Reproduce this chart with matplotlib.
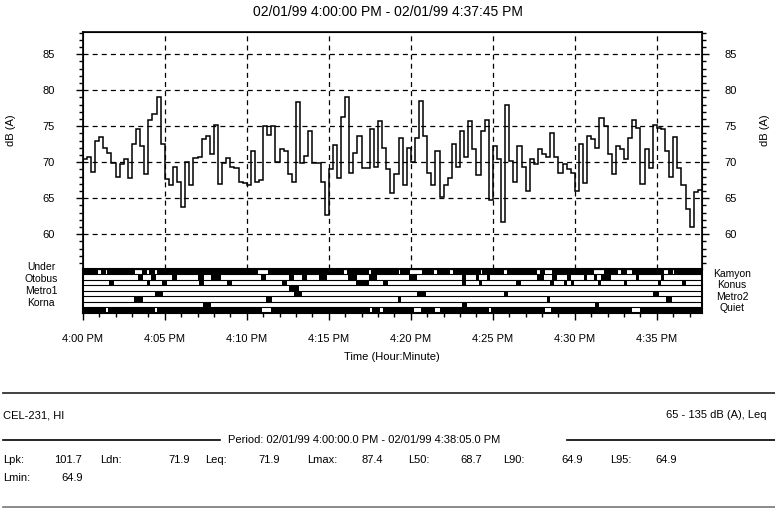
import numpy as np
import matplotlib
matplotlib.use('Agg')
import matplotlib.pyplot as plt
from matplotlib.lines import Line2D
from matplotlib.ticker import MultipleLocator

# ---- data ----
title = '02/01/99 4:00:00 PM - 02/01/99 4:37:45 PM'
interval_s = 15  # one level every 15 seconds

levels = [
    70.5, 70.7, 68.6, 73.0, 73.5, 72.0, 71.3, 69.9, 68.0, 69.8, 70.4, 67.8, 72.6, 74.6, 72.3, 68.4, 75.9, 76.7, 79.0, 72.5,
    67.6, 66.9, 69.3, 67.3, 63.8, 70.0, 66.8, 70.6, 70.7, 73.2, 73.7, 71.1, 75.2, 67.0, 69.9, 70.6, 69.3, 69.2, 67.3, 67.1,
    66.8, 71.5, 67.3, 67.5, 75.1, 73.8, 75.0, 70.1, 71.9, 71.5, 68.4, 67.3, 78.4, 69.9, 70.8, 74.4, 69.9, 69.9, 67.3, 62.6,
    69.0, 72.4, 67.8, 76.3, 79.0, 68.5, 71.3, 73.7, 69.2, 69.2, 74.6, 69.4, 75.7, 72.0, 69.0, 65.7,
    68.3, 73.3, 66.9, 72.0, 70.1, 73.4, 78.5, 73.7, 68.5, 66.8, 71.5, 65.2, 66.9, 67.8, 72.6, 69.4, 74.4, 70.7, 75.7, 71.9,
    68.2, 74.4, 75.9, 64.7, 72.3, 70.4, 61.7, 78.0, 70.2, 67.3, 72.3, 69.4, 66.0, 70.4, 69.8, 71.9, 71.2, 70.7, 74.1, 70.7,
    68.5, 69.8, 69.0, 68.5, 66.0, 72.6, 67.1, 73.7, 73.2, 72.0, 76.2, 75.1, 71.2, 68.3, 72.2, 71.8, 70.4, 73.3, 75.9, 74.7,
    67.0, 71.9, 69.2, 75.2, 74.8, 74.6, 71.6, 68.0, 73.5, 69.2, 66.9, 63.5, 61.0, 65.8, 66.2,
]

# event strip rows (minutes after 4:00 PM, start/end of marker)
under_on = [(0, 0.95), (1.10, 1.42), (1.50, 3.19), (3.6, 3.9), (4.05, 4.38), (4.5, 10.7),
            (11.3, 15.9), (16.1, 17.45), (17.6, 19.27), (19.37, 19.98), (20.69, 21.4),
            (21.6, 22.4), (22.6, 24.25), (24.35, 25.68), (25.88, 27.7), (27.9, 28.2),
            (28.6, 31.17), (31.78, 32.6), (32.8, 33.2), (33.5, 35.45), (35.65, 35.96), (36.06, 37.75)]
kamyon_on = [(3.4, 3.7), (4.15, 4.45), (5.45, 5.75), (7.05, 7.4), (7.85, 8.4), (10.85, 11.2),
             (12.55, 12.9), (13.35, 13.7), (14.4, 14.9), (16.2, 16.7), (17.45, 17.95),
             (19.9, 20.4), (23.15, 23.35), (23.95, 24.15), (24.65, 24.85), (27.7, 28.1),
             (28.6, 28.9), (29.55, 29.75), (30.55, 30.75), (31.15, 31.35), (31.6, 32.2),
             (33.7, 33.9), (35.25, 35.45)]
otobus_on = [(1.6, 1.9), (3.9, 4.1), (4.85, 5.15), (7.1, 7.4), (8.8, 9.1), (12.15, 12.45),
             (16.65, 17.45), (18.3, 18.6), (23.15, 23.35), (24.15, 24.35), (26.4, 26.7),
             (28.5, 28.7), (29.35, 29.55), (29.75, 29.95), (31.4, 31.6), (33.0, 33.2),
             (35.05, 35.25), (36.55, 36.8)]
konus_on = [(12.55, 13.2)]
metro1_on = [(4.4, 4.9), (12.85, 13.35), (20.4, 20.9), (25.7, 25.9), (34.75, 35.15)]
metro2_on = [(3.1, 3.7), (11.15, 11.55), (19.2, 19.4), (28.3, 28.5), (35.55, 35.95)]
korna_on = [(7.35, 7.85), (23.15, 23.45), (31.2, 31.5)]
quiet_on = [(0, 1.42), (1.52, 4.4), (4.52, 10.9), (11.5, 17.5), (17.65, 18.15), (18.3, 20.2),
            (20.65, 21.5), (21.8, 24.75), (24.9, 28.2), (28.55, 33.5), (33.95, 37.75)]

strip_rows = [under_on, kamyon_on, otobus_on, konus_on, metro1_on, metro2_on, korna_on, quiet_on]
left_names = ['Under', 'Otobus', 'Metro1', 'Korna']
right_names = ['Kamyon', 'Konus', 'Metro2', 'Quiet']

x_ticks = [0, 5, 10, 15, 20, 25, 30, 35]
x_labels = ['4:00 PM', '4:05 PM', '4:10 PM', '4:15 PM', '4:20 PM', '4:25 PM', '4:30 PM', '4:35 PM']
y_ticks = [60, 65, 70, 75, 80, 85]

meter = 'CEL-231, HI'
range_text = '65 - 135 dB (A), Leq'
period = 'Period: 02/01/99 4:00:00.0 PM - 02/01/99 4:38:05.0 PM'
stat_names = ['Lpk:', 'Ldn:', 'Leq:', 'Lmax:', 'L50:', 'L90:', 'L95:']
stat_values = ['101.7', '71.9', '71.9', '87.4', '68.7', '64.9', '64.9']
stat2_names = ['Lmin:']
stat2_values = ['64.9']

plt.rcParams['font.family'] = ['Liberation Sans', 'DejaVu Sans']

W, H = 775, 509
def fx(px):
    return px / W
def fy(py):
    return 1 - py / H

fig = plt.figure(figsize=(W / 100, H / 100), dpi=100)
fig.patch.set_facecolor('white')

x0, x1 = 82.7, 702.0
ax = fig.add_axes([fx(x0), fy(268.7), fx(x1) - fx(x0), fy(32) - fy(268.7)])
axs = fig.add_axes([fx(x0), fy(312.7), fx(x1) - fx(x0), fy(268.7) - fy(312.7)], sharex=ax)

edges = np.arange(len(levels) + 1) * interval_s / 60.0
ax.stairs(levels, edges, baseline=None, color='black', lw=1.1, zorder=3)

ax.set_xlim(0, edges[-1])
ax.set_ylim(55.2, 88.1)
dash = (0, (4, 3.3))
for v in y_ticks:
    ax.axhline(v, color='black', lw=0.9, ls=dash, zorder=1)
for t in x_ticks[1:]:
    ax.axvline(t, color='black', lw=0.9, ls=dash, zorder=1)

ax.set_yticks(y_ticks)
ax.yaxis.set_minor_locator(MultipleLocator(1))
ax.tick_params(axis='x', which='both', bottom=False, labelbottom=False)
ax.tick_params(axis='y', which='major', direction='out', length=5, width=1, pad=15, labelsize=8)
ax.tick_params(axis='y', which='minor', direction='out', length=3, width=1)
for s in ax.spines.values():
    s.set_linewidth(1.2)
ax.set_ylabel('dB (A)', fontsize=8)
ax.yaxis.set_label_coords(-0.108, 0.586)

axr = ax.twinx()
axr.set_ylim(ax.get_ylim())
axr.set_yticks(y_ticks)
axr.yaxis.set_minor_locator(MultipleLocator(1))
axr.tick_params(axis='y', which='major', direction='out', length=5, width=1, pad=11, labelsize=8)
axr.tick_params(axis='y', which='minor', direction='out', length=3, width=1)
axr.set_ylabel('dB (A)', fontsize=8, rotation=90)
axr.yaxis.set_label_coords(1.094, 0.586)

# event strip
axs.set_ylim(len(strip_rows), 0)
for i, row in enumerate(strip_rows):
    axs.broken_barh([(a, b - a) for a, b in row], (i, 1), facecolor='black', edgecolor='none')
for i in range(len(strip_rows) + 1):
    axs.axhline(i, color='black', lw=0.8)
axs.set_yticks([])
axs.set_xticks(x_ticks)
axs.set_xticklabels(x_labels)
axs.xaxis.set_minor_locator(MultipleLocator(1))
axs.tick_params(axis='x', which='major', direction='out', length=5, width=1, pad=10, labelsize=8)
axs.tick_params(axis='x', which='minor', direction='out', length=3, width=1)
for s in axs.spines.values():
    s.set_linewidth(1.5)
axs.set_xlabel('Time (Hour:Minute)', fontsize=8, labelpad=6)

for k, name in enumerate(left_names):
    fig.text(fx(41), fy(267.5 + 11.7 * k), name, ha='center', va='center', fontsize=7.5)
for k, name in enumerate(right_names):
    fig.text(fx(732), fy(274 + 11.3 * k), name, ha='center', va='center', fontsize=7.5)

fig.text(fx(388), fy(12), title, ha='center', va='center', fontsize=10)

# footer
fig.add_artist(Line2D([fx(3), fx(775)], [fy(392.7), fy(392.7)], color='#333333', lw=1.3))
fig.text(fx(3), fy(415), meter, ha='left', va='center', fontsize=8)
fig.text(fx(767), fy(415), range_text, ha='right', va='center', fontsize=8)
fig.add_artist(Line2D([fx(3), fx(220)], [fy(440), fy(440)], color='black', lw=1.2))
fig.add_artist(Line2D([fx(567), fx(775)], [fy(440), fy(440)], color='black', lw=1.2))
fig.text(fx(228), fy(440), period, ha='left', va='center', fontsize=8)

label_x = [3, 100, 205, 307, 408, 503, 610]
value_x = [82, 190, 280, 383, 482, 583, 677]
for name, val, lx, vx in zip(stat_names, stat_values, label_x, value_x):
    fig.text(fx(lx), fy(460), name, ha='left', va='center', fontsize=8)
    fig.text(fx(vx), fy(460), val, ha='right', va='center', fontsize=8)
for name, val in zip(stat2_names, stat2_values):
    fig.text(fx(3), fy(478), name, ha='left', va='center', fontsize=8)
    fig.text(fx(83), fy(478), val, ha='right', va='center', fontsize=8)
fig.add_artist(Line2D([fx(3), fx(775)], [fy(507), fy(507)], color='#777777', lw=1.2))

fig.savefig('out.png', dpi=100, facecolor='white')
